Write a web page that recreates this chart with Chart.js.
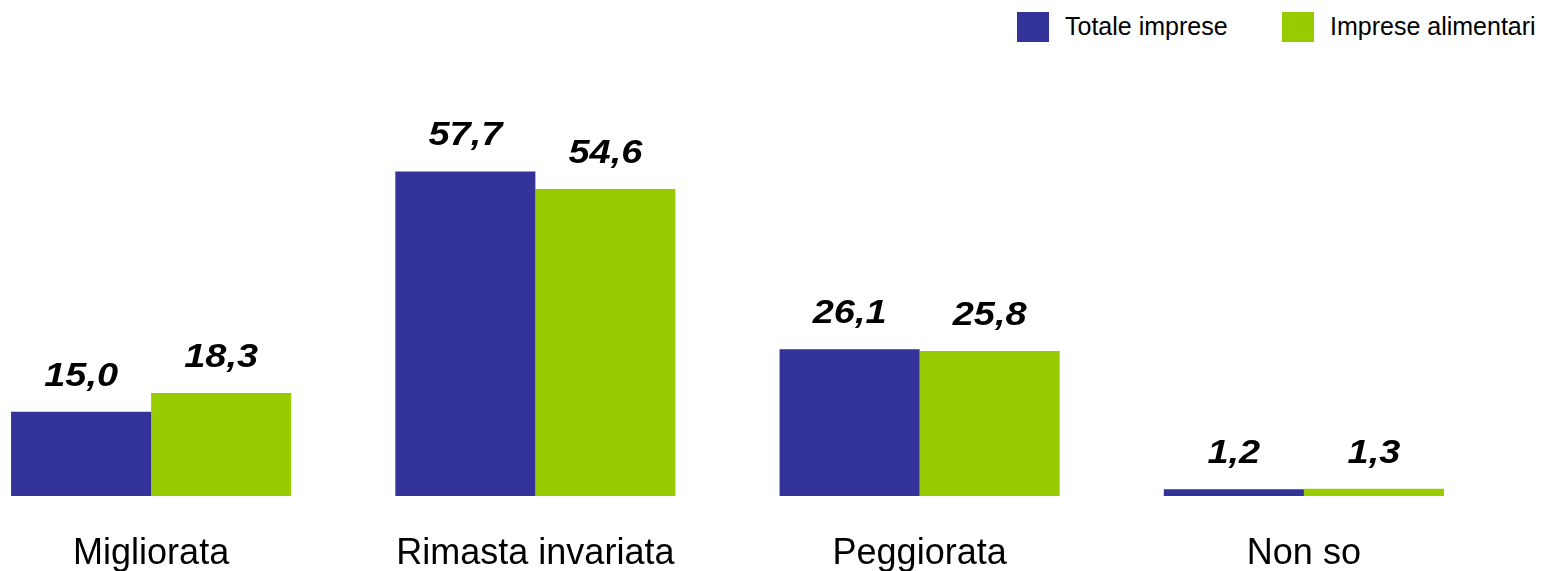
<!DOCTYPE html>
<html lang="it">
<head>
<meta charset="utf-8">
<title>Situazione economica</title>
<script src="https://cdn.jsdelivr.net/npm/chart.js@4.4.1/dist/chart.umd.min.js"></script>
<style>
  html, body { margin: 0; padding: 0; background: #ffffff; overflow: hidden; }
  body { width: 1550px; height: 571px; position: relative; font-family: "Liberation Sans", Arial, sans-serif; }
  #wrap { position: absolute; left: -41px; top: 0; width: 1537px; height: 571px; }
  .legend { position: absolute; top: 11px; height: 31px; display: flex; align-items: center; font-size: 25px; color: #000; white-space: nowrap; }
  .legend .box { width: 32px; height: 30px; margin-right: 16px; }
</style>
</head>
<body>
<div class="legend" style="left:1017px"><span class="box" style="background:#333399"></span>Totale imprese</div>
<div class="legend" style="left:1282px"><span class="box" style="background:#99CC00"></span>Imprese alimentari</div>
<div id="wrap"><canvas id="chart"></canvas></div>
<script>
// Categorie e valori percentuali
const categories = ["Migliorata", "Rimasta invariata", "Peggiorata", "Non so"];
const seriesNames = ["Totale imprese", "Imprese alimentari"];
const totaleImprese = [15.0, 57.7, 26.1, 1.2];
const impreseAlimentari = [18.3, 54.6, 25.8, 1.3];
const seriesColors = ["#333399", "#99CC00"];

const FONT = '"Liberation Sans", Arial, sans-serif';

// Etichette con il valore sopra ogni barra (virgola decimale, carattere leggermente allargato)
const valueLabels = {
  id: 'valueLabels',
  afterDatasetsDraw(chart) {
    const ctx = chart.ctx;
    chart.data.datasets.forEach((ds, i) => {
      chart.getDatasetMeta(i).data.forEach((bar, j) => {
        const txt = ds.data[j].toFixed(1).replace('.', ',');
        ctx.save();
        ctx.font = 'italic bold 33px ' + FONT;
        ctx.fillStyle = '#000000';
        ctx.textAlign = 'center';
        ctx.textBaseline = 'alphabetic';
        ctx.translate(bar.x, bar.y - 26);
        ctx.scale(1.15, 1);
        ctx.fillText(txt, 0, 0);
        ctx.restore();
      });
    });
  }
};

new Chart(document.getElementById('chart'), {
  type: 'bar',
  data: {
    labels: categories,
    datasets: [
      { label: seriesNames[0], data: totaleImprese, backgroundColor: seriesColors[0] },
      { label: seriesNames[1], data: impreseAlimentari, backgroundColor: seriesColors[1] }
    ]
  },
  options: {
    responsive: true,
    maintainAspectRatio: false,
    animation: false,
    layout: { padding: { top: 46, left: 0, right: 0, bottom: 0 } },
    datasets: { bar: { categoryPercentage: 0.729, barPercentage: 1.0 } },
    plugins: { legend: { display: false }, tooltip: { enabled: false } },
    scales: {
      x: {
        grid: { display: false, drawTicks: false },
        border: { display: false },
        ticks: { color: '#000000', font: { family: FONT, size: 36 }, padding: 36, maxRotation: 0 },
        afterFit(scale) { scale.height = 75; }
      },
      y: {
        display: false,
        min: 0,
        max: 80
      }
    }
  },
  plugins: [valueLabels]
});
</script>
</body>
</html>
